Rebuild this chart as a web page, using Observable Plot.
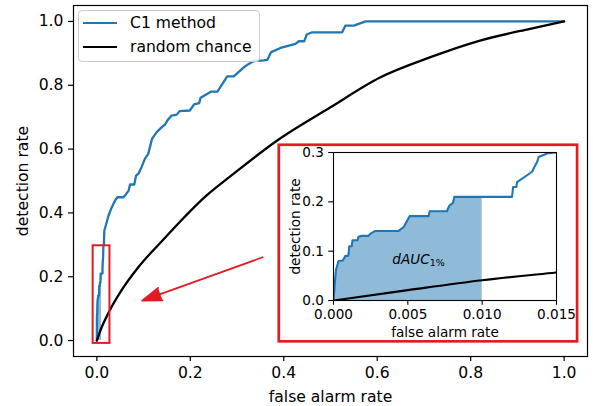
<!DOCTYPE html>
<html>
<head>
<meta charset="utf-8">
<script src="https://cdn.jsdelivr.net/npm/d3@7"></script>
<script src="https://cdn.jsdelivr.net/npm/@observablehq/plot@0.6"></script>
<style>
  body { margin: 0; background: #fff; }
  #wrap { position: relative; width: 593px; height: 406px; font-family: "DejaVu Sans", sans-serif; color: #000; }
  #wrap svg { position: absolute; }
  #main { left: 0; top: 0; }
  #inset { left: 280px; top: 146px; }
  .legend { position: absolute; left: 78px; top: 10px; width: 182px; height: 52px; box-sizing: border-box;
            border: 1px solid #cccccc; border-radius: 4px; background: rgba(255,255,255,0.8); font-size: 15.6px; }
  .legend .sw { position: absolute; left: 4px; width: 34px; height: 0; border-top: 2.3px solid; }
  .legend .lab { position: absolute; left: 51px; line-height: 18px; white-space: nowrap; }
</style>
</head>
<body>
<div id="wrap"></div>
<script>
// ---- data ----
const c1Far = [0, 0.00016, 0.00034, 0.00063, 0.00079, 0.00100, 0.00106, 0.00123, 0.00128, 0.00162, 0.00168, 0.00191,
  0.00236, 0.00247, 0.00281, 0.00438, 0.00472, 0.00512, 0.00640, 0.00647, 0.00763, 0.00779, 0.00804, 0.00813,
  0.01201, 0.01208, 0.01230, 0.01235, 0.01336, 0.01352, 0.01370, 0.01380, 0.01437, 0.01500,
  0.0160, 0.018, 0.025, 0.032, 0.039, 0.044, 0.057, 0.062, 0.068, 0.071, 0.080, 0.084, 0.089, 0.096, 0.103, 0.110,
  0.118, 0.128, 0.139, 0.146, 0.151, 0.160, 0.171, 0.177, 0.199, 0.208, 0.219, 0.222, 0.244, 0.258, 0.279, 0.293,
  0.315, 0.325, 0.336, 0.357, 0.365, 0.373, 0.393, 0.425, 0.432, 0.444, 0.449, 0.461, 0.525, 0.532, 0.550, 0.575, 1.0];
const c1Det = [0, 0.061, 0.080, 0.081, 0.090, 0.091, 0.110, 0.110, 0.122, 0.122, 0.129, 0.131,
  0.131, 0.135, 0.141, 0.141, 0.149, 0.171, 0.171, 0.181, 0.181, 0.192, 0.198, 0.210,
  0.210, 0.230, 0.230, 0.240, 0.261, 0.271, 0.281, 0.291, 0.298, 0.300,
  0.345, 0.355, 0.392, 0.418, 0.439, 0.449, 0.449, 0.458, 0.470, 0.489, 0.489, 0.517, 0.523, 0.545, 0.570, 0.585,
  0.632, 0.653, 0.669, 0.677, 0.690, 0.705, 0.708, 0.719, 0.721, 0.740, 0.744, 0.761, 0.780, 0.780, 0.828, 0.828,
  0.857, 0.867, 0.876, 0.878, 0.880, 0.904, 0.917, 0.930, 0.938, 0.938, 0.959, 0.966, 0.966, 0.987, 0.987, 1.0, 1.0];
const chanceFar = [0, 0.005, 0.010, 0.015, 0.026, 0.054, 0.090, 0.140, 0.235, 0.286, 0.386, 0.500, 0.607, 0.714, 0.820, 0.927, 1.000];
const chanceDet = [0, 0.021, 0.041, 0.057, 0.090, 0.160, 0.232, 0.313, 0.455, 0.515, 0.627, 0.731, 0.825, 0.888, 0.940, 0.977, 1.000];
const dAucLimit = 0.010;       // false alarm rate limit of the shaded area
const dAucEdgeDet = 0.210;     // detection rate at that limit
const mainTicks = [0, 0.2, 0.4, 0.6, 0.8, 1.0];
const insetXTicks = [0, 0.005, 0.010, 0.015];
const insetYTicks = [0, 0.1, 0.2, 0.3];
const zoomBoxX = [-0.008, 0.028], zoomBoxY = [-0.009, 0.297];
const insetFrameX = [0.3904, 1.0288], insetFrameY = [-0.004, 0.612];
const arrowFrom = [0.355, 0.261], arrowTo = [0.097, 0.125];
const dAucLabelAt = [0.00647, 0.0833];
const insetDomainX = [0, 0.015], insetDomainY = [0, 0.3];

// ---- tables ----
const c1 = c1Far.map((x, i) => ({x, y: c1Det[i]}));
const chance = chanceFar.map((x, i) => ({x, y: chanceDet[i]}));
const dAucArea = c1.filter(d => d.x < dAucLimit).concat([{x: dAucLimit, y: dAucEdgeDet}]);

const blue = "#1f77b4", red = "#e31b23";
const wrap = document.getElementById("wrap");

const main = Plot.plot({
  width: 593, height: 406,
  marginLeft: 73, marginRight: 6, marginTop: 5, marginBottom: 50,
  x: {domain: [-0.05, 1.05]},
  y: {domain: [-0.05, 1.05]},
  style: {fontFamily: "DejaVu Sans", fontSize: "15.6px", color: "black", background: "transparent", overflow: "visible"},
  marks: [
    Plot.areaY(dAucArea, {x: "x", y: "y", fill: blue, fillOpacity: 0.5}),
    Plot.line(c1, {x: "x", y: "y", stroke: blue, strokeWidth: 2.3}),
    Plot.line(chance, {x: "x", y: "y", stroke: "black", strokeWidth: 2.3, curve: "monotone-x"}),
    Plot.rect([0], {x1: () => zoomBoxX[0], x2: () => zoomBoxX[1], y1: () => zoomBoxY[0], y2: () => zoomBoxY[1],
      fill: "none", stroke: red, strokeWidth: 2}),
    Plot.rect([0], {x1: () => insetFrameX[0], x2: () => insetFrameX[1], y1: () => insetFrameY[0], y2: () => insetFrameY[1],
      fill: "none", stroke: red, strokeWidth: 2.7}),
    Plot.arrow([0], {x1: () => arrowFrom[0], y1: () => arrowFrom[1], x2: () => arrowTo[0], y2: () => arrowTo[1],
      stroke: red, fill: red, strokeWidth: 1.8, headLength: 17, headAngle: 38}),
    Plot.axisX({ticks: mainTicks, tickFormat: d3.format(".1f"), tickSize: 5, tickPadding: 5, label: null, strokeWidth: 1.2}),
    Plot.axisY({ticks: mainTicks, tickFormat: d3.format(".1f"), tickSize: 5, tickPadding: 5, label: null, strokeWidth: 1.2}),
    Plot.frame({stroke: "black", strokeWidth: 1.2}),
    Plot.text(["false alarm rate"], {frameAnchor: "bottom", lineAnchor: "middle", textAnchor: "middle", dy: 40}),
    Plot.text(["detection rate"], {frameAnchor: "left", lineAnchor: "middle", textAnchor: "middle", dx: -51, rotate: -90})
  ]
});
main.id = "main";
wrap.appendChild(main);

const inset = Plot.plot({
  width: 296, height: 194,
  marginLeft: 53, marginRight: 20, marginTop: 6, marginBottom: 40,
  x: {domain: insetDomainX},
  y: {domain: insetDomainY},
  style: {fontFamily: "DejaVu Sans", fontSize: "13.6px", color: "black", background: "transparent", overflow: "visible"},
  marks: [
    Plot.areaY(dAucArea, {x: "x", y: "y", fill: blue, fillOpacity: 0.5}),
    Plot.line(c1, {x: "x", y: "y", stroke: blue, strokeWidth: 2.1, clip: true}),
    Plot.line(chance, {x: "x", y: "y", stroke: "black", strokeWidth: 2.1, curve: "monotone-x", clip: true}),
    Plot.text([dAucLabelAt], {x: d => d[0], y: d => d[1], text: () => "dAUC", textAnchor: "end", fontStyle: "italic"}),
    Plot.text([dAucLabelAt], {x: d => d[0], y: d => d[1], text: () => "1%", textAnchor: "start", fontSize: 9.5, dy: 4}),
    Plot.axisX({ticks: insetXTicks, tickFormat: d3.format(".3f"), tickSize: 4.8, tickPadding: 4.5, label: null, strokeWidth: 1.1}),
    Plot.axisY({ticks: insetYTicks, tickFormat: d3.format(".1f"), tickSize: 4.8, tickPadding: 4.8, label: null, strokeWidth: 1.1}),
    Plot.frame({stroke: "black", strokeWidth: 1.1}),
    Plot.text(["false alarm rate"], {frameAnchor: "bottom", lineAnchor: "middle", textAnchor: "middle", dy: 32.6}),
    Plot.text(["detection rate"], {frameAnchor: "left", lineAnchor: "middle", textAnchor: "middle", dx: -38.3, rotate: -90})
  ]
});
inset.id = "inset";
wrap.appendChild(inset);

// legend
const legend = document.createElement("div");
legend.className = "legend";
[["C1 method", blue, 12.6], ["random chance", "black", 36.0]].forEach(([label, color, cy]) => {
  const sw = document.createElement("div");
  sw.className = "sw";
  sw.style.borderTopColor = color;
  sw.style.top = (cy - 1.15) + "px";
  legend.appendChild(sw);
  const t = document.createElement("div");
  t.className = "lab";
  t.textContent = label;
  t.style.top = (cy - 9.5) + "px";
  legend.appendChild(t);
});
wrap.appendChild(legend);
</script>
</body>
</html>
